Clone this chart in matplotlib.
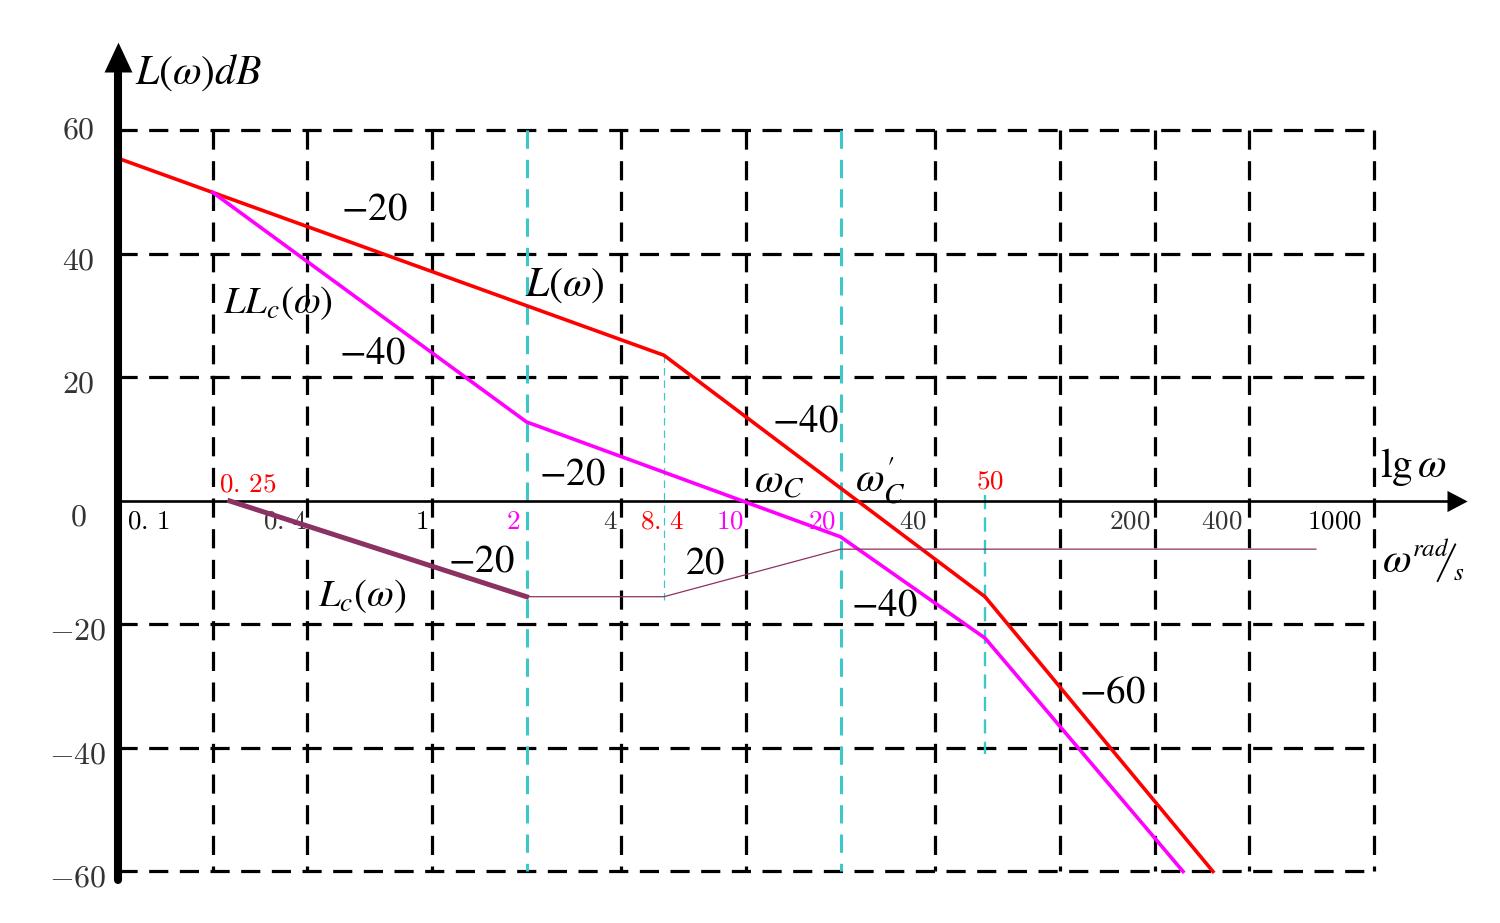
import matplotlib

matplotlib.use("Agg")
import matplotlib.pyplot as plt

# ── asymptotic Bode magnitude curves (ω in rad/s, L in dB) ──
L_w = [0.1, 5.48, 57.7, 307]
L_db = [55.5, 23.6, -15.5, -60]

LLc_w = [0.2, 2, 20, 57.7, 246.6]
LLc_db = [50, 12.8, -5.8, -22.2, -60]

Lc_w = [0.227, 2, 5.48, 20, 653]
Lc_db = [0, -15.5, -15.5, -7.8, -7.8]

grid_db = [60, 40, 20, -20, -40, -60]
grid_w = [0.2, 0.4, 1, 4, 10, 40, 100, 200, 400, 1000]
cyan_full_w = [2, 20]
cyan_short = [(5.48, 23.6, -16.8), (57.7, 1.0, -41.0)]

ytick_vals = [60, 40, 20, 0, -20, -40, -60]
xtick_labels = [  # (ω position, text, colour)
    (0.125, r"$0.\,1$", "black"),
    (0.340, r"$0.\,4$", "#333333"),
    (0.929, r"$1$", "black"),
    (1.81, r"$2$", "#ff00ff"),
    (3.69, r"$4$", "#333333"),
    (5.40, r"$8.\,4$", "red"),
    (8.9, r"$10$", "#ff00ff"),
    (17.5, r"$20$", "#ff00ff"),
    (34.0, r"$40$", "#333333"),
    (167, r"$200$", "#333333"),
    (328, r"$400$", "#333333"),
    (751, r"$1000$", "black"),
]

fig = plt.figure(figsize=(15, 9.23), dpi=100)
ax = fig.add_axes([0, 0, 1, 1])
ax.set_xscale("log")
ax.set_xlim(10 ** -1.3758, 10 ** 3.4013)
ax.set_ylim(-68.34, 81.13)
ax.axis("off")

DASH = (6, 3.6)
CYAN = "#3cc8c8"

# grid
for d in grid_db:
    ax.plot([0.1, 1000], [d, d], color="black", lw=2.3, dashes=DASH)
for w in grid_w:
    ax.plot([w, w], [60, -60], color="black", lw=2.3, dashes=DASH)
for w in cyan_full_w:
    ax.plot([w, w], [60, -60], color=CYAN, lw=2.2, dashes=DASH, zorder=3)
ax.plot([cyan_short[0][0]] * 2, cyan_short[0][1:], color=CYAN, lw=0.9, dashes=(6, 4), zorder=3)
ax.plot([cyan_short[1][0]] * 2, cyan_short[1][1:], color=CYAN, lw=1.7, dashes=(6, 3.5), zorder=3)

# axes with arrows
ax.plot([0.1, 1708], [0, 0], color="black", lw=1.9, zorder=4)
ax.plot([1708], [0], marker=[(1, 0), (0, 0.525), (0, -0.525)], ms=29, color="black", mew=0, zorder=4)
ax.plot([0.1, 0.1], [-61.4, 69.5], color="black", lw=5.8, solid_capstyle="round", zorder=6)
ax.plot([0.1], [69.5], marker=[(0, 1), (-0.467, 0), (0.467, 0)], ms=43, color="black", mew=0, zorder=6)

# curves
ax.plot(L_w, L_db, color="red", lw=2.6, zorder=5)
ax.plot(LLc_w, LLc_db, color="#ff00ff", lw=2.6, zorder=5)
ax.plot(Lc_w[:2], Lc_db[:2], color="#8b3262", lw=3.6, zorder=5)
ax.plot(Lc_w[1:], Lc_db[1:], color="#8b3262", lw=0.9, zorder=5)

# tick labels
for v in ytick_vals:
    y = v - (0 if v == 60 else 2.6 if v == 0 else 1.1)
    ax.text(0.0746, y, f"${v}$", ha="center", va="center", fontsize=23,
            math_fontfamily="cm", color="#333333")
for w, s, c in xtick_labels:
    ax.text(w, -3.4, s, ha="center", va="center", fontsize=19.5, math_fontfamily="cm", color=c)
ax.text(0.259, 2.75, r"$0.\,25$", ha="center", va="center", fontsize=19.5, math_fontfamily="cm", color="red")
ax.text(59.8, 3.1, r"$50$", ha="center", va="center", fontsize=19.5, math_fontfamily="cm", color="red")

# annotations
big = dict(ha="center", va="center", fontsize=28, math_fontfamily="stix", color="black", zorder=7)
name = {**big, "fontsize": 30}
ax.text(0.113, 69.5, r"$L(\omega)dB$", **{**name, "ha": "left"})
ax.text(0.653, 47.4, r"$-20$", **big)
ax.text(0.645, 24.0, r"$-40$", **big)
ax.text(2.65, 35.1, r"$L(\omega)$", **name)
ax.text(0.324, 32.1, r"$LL_c(\omega)$", **big)
ax.text(2.79, 4.5, r"$-20$", **big)
ax.text(15.5, 13.0, r"$-40$", **big)
ax.text(12.8, 3.2, r"$\omega_C$", **name)
ax.text(26.7, 3.2, r"$\omega_C^{\prime}$", **name)
ax.text(1.44, -9.6, r"$-20$", **big)
ax.text(7.4, -9.9, r"$20$", **big)
ax.text(0.598, -15.4, r"$L_c(\omega)$", **big)
ax.text(27.5, -16.8, r"$-40$", **big)
ax.text(146.6, -30.9, r"$-60$", **big)
ax.text(1045, 5.5, r"$\mathrm{lg}\,\omega$", **{**name, "ha": "left"})

# unit  ω rad/s  (slash drawn as a stroke between the two small parts)
ax.text(1060, -9.6, r"$\omega$", **{**name, "ha": "left"})
ax.text(1321, -7.8, r"$rad$", ha="left", va="center", fontsize=18, math_fontfamily="stix")
ax.plot([1590, 1820], [-13.1, -6.9], color="black", lw=1.3, solid_capstyle="butt")
ax.text(1860, -11.6, r"$s$", ha="center", va="center", fontsize=18, math_fontfamily="stix")

fig.savefig("out.png", dpi=100)
